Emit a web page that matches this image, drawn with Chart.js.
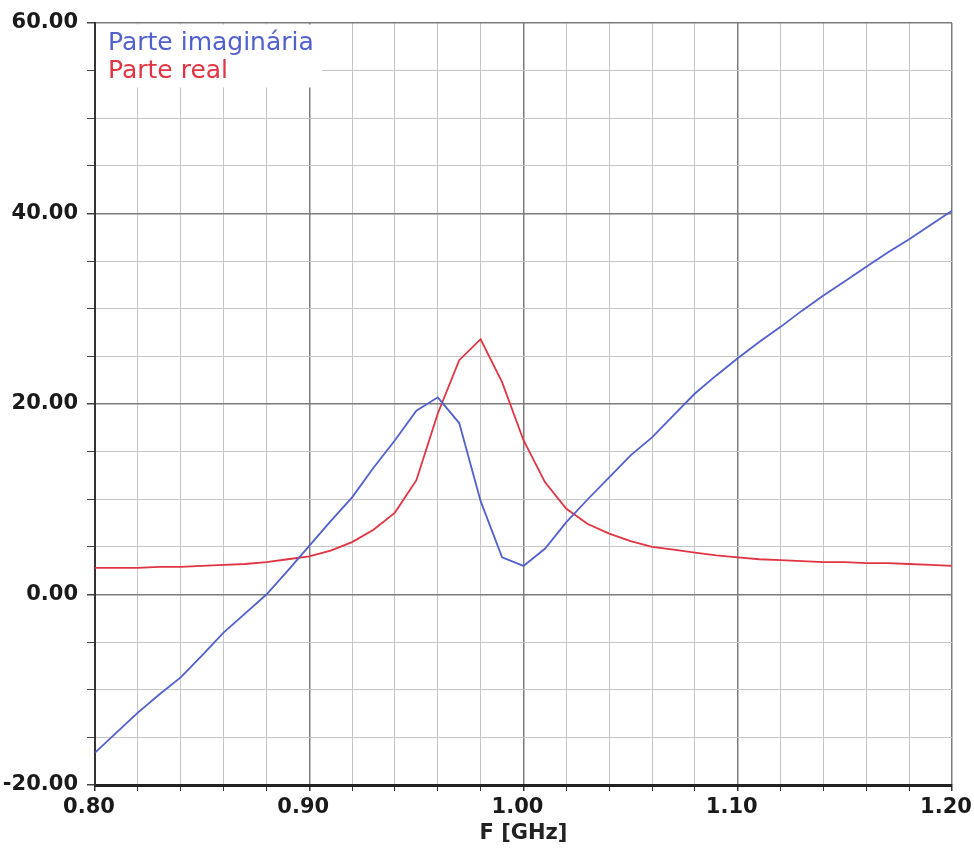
<!DOCTYPE html>
<html>
<head>
<meta charset="utf-8">
<title>Impedância</title>
<script src="https://cdn.jsdelivr.net/npm/chart.js@4.4.1/dist/chart.umd.min.js"></script>
<style>
  html, body { margin: 0; padding: 0; background: #fff; }
  #chart { display: block; }
</style>
</head>
<body>
<canvas id="chart" width="974" height="859"></canvas>
<script>
// ── Data ─────────────────────────────────────────────────────────────────
const freqGHz = [
  0.80, 0.81, 0.82, 0.83, 0.84, 0.85, 0.86, 0.87, 0.88, 0.89,
  0.90, 0.91, 0.92, 0.93, 0.94, 0.95, 0.96, 0.97, 0.98, 0.99,
  1.00, 1.01, 1.02, 1.03, 1.04, 1.05, 1.06, 1.07, 1.08, 1.09,
  1.10, 1.11, 1.12, 1.13, 1.14, 1.15, 1.16, 1.17, 1.18, 1.19, 1.20
];
const imagPart = [
  -16.6, -14.5, -12.4, -10.5, -8.7, -6.4, -4.0, -2.0, 0.0, 2.5,
  5.1, 7.7, 10.2, 13.3, 16.2, 19.3, 20.7, 18.0, 9.8, 3.9,
  3.0, 4.8, 7.6, 10.0, 12.3, 14.6, 16.5, 18.8, 21.1, 23.0,
  24.8, 26.5, 28.1, 29.8, 31.4, 32.9, 34.4, 35.9, 37.3, 38.8, 40.3
];
const realPart = [
  2.8, 2.8, 2.8, 2.9, 2.9, 3.0, 3.1, 3.2, 3.4, 3.7,
  4.0, 4.6, 5.5, 6.8, 8.6, 12.0, 19.0, 24.6, 26.8, 22.3,
  16.2, 11.8, 9.0, 7.4, 6.4, 5.6, 5.0, 4.7, 4.4, 4.1,
  3.9, 3.7, 3.6, 3.5, 3.4, 3.4, 3.3, 3.3, 3.2, 3.1, 3.0
];
const seriesLabels = ['Parte imaginária', 'Parte real'];
const xRange = [0.80, 1.20];
const yRange = [-20, 60];

// ── Styles ───────────────────────────────────────────────────────────────
const BLUE = '#5060cc';
const RED = '#e03442';
const GRID_MINOR = '#c6c6c6';
const GRID_MAJOR = '#7c7c7c';
const TICK_FONT = { family: '"DejaVu Sans", sans-serif', size: 21, weight: 'bold' };

const isMajorX = v => Math.abs(v * 10 - Math.round(v * 10)) < 1e-6;
const isMajorY = v => Math.abs(v % 20) < 1e-6;

const toPoints = ys => ys.map((y, i) => ({ x: freqGHz[i], y }));

// legend drawn inside the plot, on a white patch over the grid
const legendBox = {
  id: 'legendBox',
  beforeDatasetsDraw(chart) {
    const { ctx, chartArea } = chart;
    ctx.save();
    ctx.fillStyle = '#fff';
    ctx.fillRect(chartArea.left + 1, chartArea.top + 1.5, 226, 63);
    ctx.font = '25px "DejaVu Sans", sans-serif';
    ctx.textBaseline = 'alphabetic';
    chart.data.datasets.forEach((ds, i) => {
      ctx.fillStyle = ds.borderColor;
      ctx.fillText(ds.label, chartArea.left + 13, chartArea.top + 27 + i * 28);
    });
    ctx.restore();
  }
};

new Chart(document.getElementById('chart'), {
  type: 'line',
  data: {
    datasets: [
      { label: seriesLabels[0], data: toPoints(imagPart), borderColor: BLUE, borderWidth: 1.8 },
      { label: seriesLabels[1], data: toPoints(realPart), borderColor: RED, borderWidth: 1.8 }
    ]
  },
  options: {
    responsive: false,
    devicePixelRatio: 1,
    animation: false,
    layout: { padding: { left: 0, top: 23, right: 22, bottom: 0 } },
    elements: { point: { radius: 0 }, line: { tension: 0 } },
    plugins: { legend: { display: false }, tooltip: { enabled: false } },
    scales: {
      x: {
        type: 'linear',
        min: xRange[0],
        max: xRange[1],
        grid: {
          color: c => (c.tick && isMajorX(c.tick.value)) ? GRID_MAJOR : GRID_MINOR,
          lineWidth: c => (c.tick && isMajorX(c.tick.value)) ? 1.5 : 1,
          tickColor: '#333',
          tickLength: 6
        },
        border: { color: '#222', width: 3 },
        ticks: {
          stepSize: 0.02,
          autoSkip: false,
          maxRotation: 0,
          padding: 4,
          labelOffset: -6,
          color: '#1a1a1a',
          font: TICK_FONT,
          callback: v => isMajorX(v) ? v.toFixed(2) : ''
        },
        title: {
          display: true,
          text: 'F [GHz]',
          color: '#222',
          font: TICK_FONT,
          padding: { top: 4, bottom: 13 }
        },
        afterFit: s => { s.height = 74; s.paddingLeft = 0; s.paddingRight = 0; }
      },
      y: {
        min: yRange[0],
        max: yRange[1],
        grid: {
          color: c => (c.tick && isMajorY(c.tick.value)) ? GRID_MAJOR : GRID_MINOR,
          lineWidth: c => (c.tick && isMajorY(c.tick.value)) ? 1.5 : 1,
          tickColor: '#444',
          tickLength: 8
        },
        border: { color: '#333', width: 2 },
        ticks: {
          stepSize: 5,
          autoSkip: false,
          padding: 9,
          color: '#1a1a1a',
          font: TICK_FONT,
          callback: v => isMajorY(v) ? v.toFixed(2) : ''
        },
        afterFit: s => { s.width = 95; s.paddingTop = 0; s.paddingBottom = 0; }
      }
    }
  },
  plugins: [legendBox]
});
</script>
</body>
</html>
